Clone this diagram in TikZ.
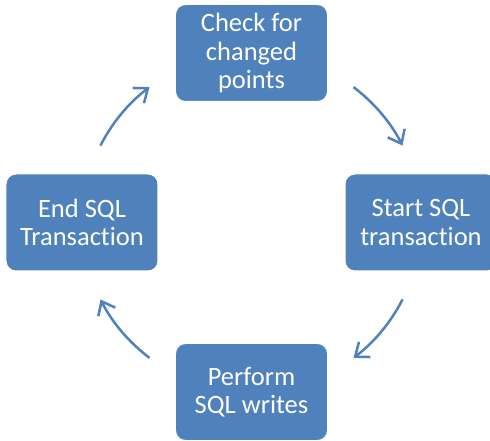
\documentclass[tikz,border=0pt]{standalone}
\usepackage{fontspec}
\setmainfont{Carlito}[Ligatures={NoCommon,NoContextual}]
\usetikzlibrary{arrows.meta}
\definecolor{boxblue}{HTML}{4F81BD}
\tikzset{
	stagebox/.style={rectangle, rounded corners=10pt, fill=boxblue, draw=white, line width=1pt,
		minimum width=152pt, minimum height=97pt, align=center, text=white,
		font=\fontsize{26.5}{28.5}\selectfont},
	cyclearrow/.style={draw=boxblue, line width=2.5pt, -{Straight Barb[length=12pt,width=19pt]}}
}

\begin{document}
\begin{tikzpicture}[x=1pt, y=1pt]
	\pgfmathsetmacro{\r}{169.5}
	\useasboundingbox (-251.5,-218.5) rectangle (238.5,222.5);

	% Boxes
	\node[stagebox] (check)   at (90:\r pt)  {Check for\\changed\\points};
	\node[stagebox] (start)   at (0:\r pt)   {Start SQL\\transaction};
	\node[stagebox] (perform) at (-90:\r pt) {Perform\\SQL writes};
	\node[stagebox] (finish)  at (180:\r pt) {End SQL\\Transaction};

	% Arrows
	\foreach \a/\b [count=\k] in {53/27, -27/-53, -127/-153, 153/127}
	{
	\coordinate (s\k) at (\a:\r pt);
	\draw[cyclearrow] (s\k) arc[start angle=\a, end angle=\b, radius=\r pt];
	}
\end{tikzpicture}
\end{document}
